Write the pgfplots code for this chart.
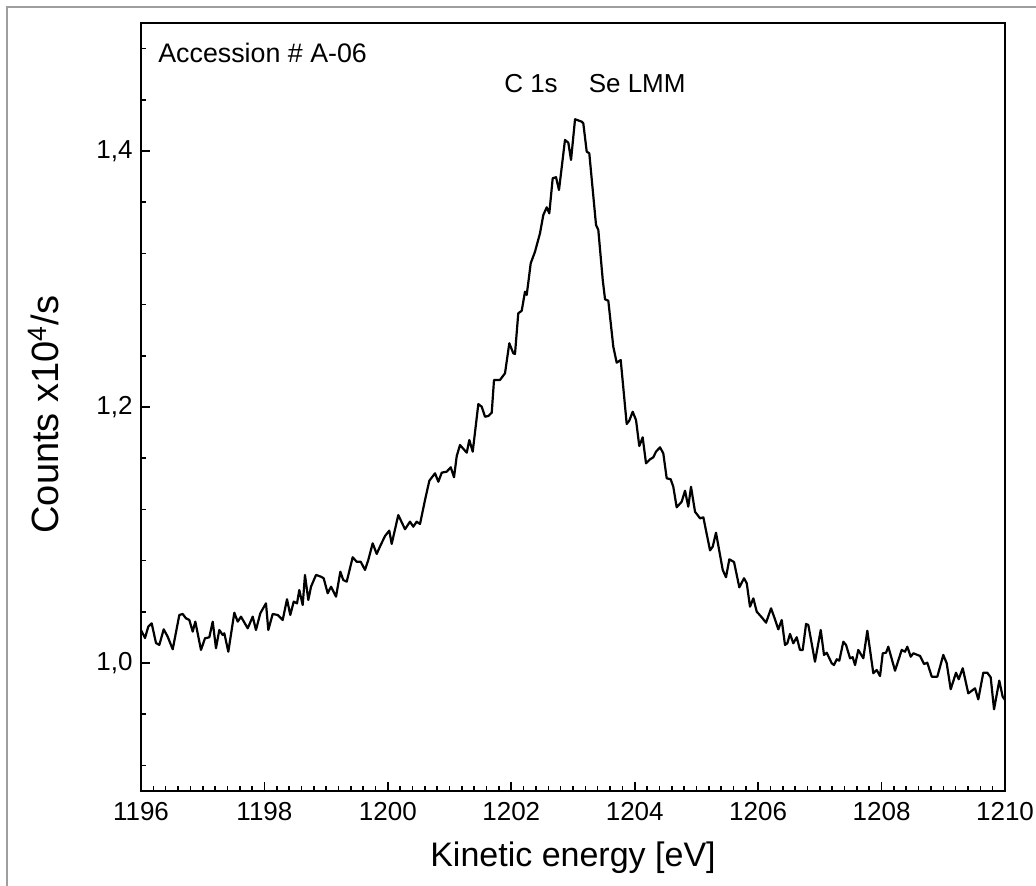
\documentclass[border=0pt]{standalone}
\usepackage{fontspec}
\setmainfont{Liberation Sans}
\usepackage{pgfplots}
\usepackage{pgfplotstable}
\pgfplotsset{compat=1.18}
\pgfplotstableread{
x y
1196.000 1.0258
1196.065 1.0195
1196.118 1.0284
1196.173 1.0310
1196.243 1.0156
1196.297 1.0141
1196.368 1.0263
1196.433 1.0205
1196.514 1.0107
1196.621 1.0375
1196.676 1.0383
1196.729 1.0349
1196.783 1.0336
1196.838 1.0245
1196.880 1.0323
1196.972 1.0102
1197.037 1.0193
1197.107 1.0201
1197.162 1.0323
1197.215 1.0115
1197.269 1.0258
1197.324 1.0219
1197.350 1.0232
1197.415 1.0088
1197.512 1.0393
1197.567 1.0323
1197.620 1.0362
1197.729 1.0271
1197.810 1.0362
1197.863 1.0258
1197.933 1.0388
1198.025 1.0466
1198.063 1.0258
1198.134 1.0383
1198.215 1.0375
1198.296 1.0336
1198.366 1.0498
1198.419 1.0375
1198.474 1.0479
1198.528 1.0466
1198.565 1.0570
1198.620 1.0453
1198.657 1.0688
1198.711 1.0492
1198.755 1.0596
1198.836 1.0688
1198.917 1.0674
1198.960 1.0662
1199.025 1.0545
1199.079 1.0596
1199.160 1.0518
1199.230 1.0713
1199.278 1.0648
1199.333 1.0635
1199.430 1.0826
1199.495 1.0791
1199.560 1.0791
1199.630 1.0727
1199.683 1.0805
1199.754 1.0935
1199.819 1.0852
1199.884 1.0922
1199.954 1.0992
1200.023 1.1034
1200.062 1.0930
1200.169 1.1156
1200.278 1.1045
1200.359 1.1104
1200.412 1.1065
1200.467 1.1104
1200.521 1.1086
1200.602 1.1273
1200.672 1.1424
1200.764 1.1482
1200.818 1.1416
1200.873 1.1487
1200.954 1.1495
1201.019 1.1529
1201.072 1.1451
1201.116 1.1617
1201.169 1.1703
1201.278 1.1643
1201.320 1.1742
1201.375 1.1651
1201.466 1.2023
1201.521 1.2002
1201.574 1.1924
1201.628 1.1930
1201.683 1.1955
1201.720 1.2211
1201.817 1.2211
1201.898 1.2263
1201.968 1.2498
1202.032 1.2420
1202.060 1.2414
1202.113 1.2732
1202.169 1.2752
1202.222 1.2901
1202.250 1.2875
1202.315 1.3123
1202.384 1.3213
1202.465 1.3357
1202.519 1.3500
1202.574 1.3560
1202.616 1.3513
1202.671 1.3787
1202.725 1.3795
1202.773 1.3695
1202.870 1.4086
1202.924 1.4065
1202.968 1.3930
1203.033 1.4248
1203.141 1.4229
1203.167 1.4216
1203.222 1.3995
1203.264 1.3982
1203.373 1.3422
1203.410 1.3383
1203.482 1.2992
1203.519 1.2841
1203.572 1.2830
1203.653 1.2471
1203.708 1.2346
1203.773 1.2367
1203.870 1.1867
1203.912 1.1893
1203.967 1.1963
1204.021 1.1898
1204.074 1.1695
1204.129 1.1763
1204.183 1.1560
1204.248 1.1591
1204.301 1.1607
1204.345 1.1651
1204.410 1.1685
1204.463 1.1638
1204.518 1.1443
1204.583 1.1435
1204.625 1.1377
1204.680 1.1216
1204.761 1.1260
1204.815 1.1346
1204.868 1.1221
1204.912 1.1377
1204.977 1.1182
1205.058 1.1130
1205.112 1.1138
1205.220 1.0880
1205.264 1.0909
1205.317 1.1018
1205.426 1.0727
1205.479 1.0670
1205.533 1.0810
1205.609 1.0789
1205.695 1.0591
1205.771 1.0662
1205.815 1.0623
1205.868 1.0440
1205.922 1.0505
1205.977 1.0401
1206.058 1.0357
1206.128 1.0315
1206.209 1.0427
1206.273 1.0341
1206.327 1.0263
1206.382 1.0336
1206.435 1.0141
1206.473 1.0154
1206.516 1.0227
1206.570 1.0154
1206.625 1.0201
1206.678 1.0102
1206.722 1.0102
1206.776 1.0305
1206.813 1.0297
1206.921 1.0010
1207.014 1.0258
1207.067 1.0063
1207.111 1.0080
1207.192 0.9998
1207.229 0.9984
1207.273 1.0029
1207.315 1.0018
1207.380 1.0166
1207.424 1.0141
1207.489 1.0037
1207.532 1.0045
1207.570 0.9984
1207.623 1.0102
1207.704 1.0037
1207.769 1.0252
1207.866 0.9920
1207.921 0.9945
1207.975 0.9898
1208.019 1.0076
1208.072 1.0080
1208.109 1.0127
1208.218 0.9940
1208.326 1.0102
1208.380 1.0088
1208.417 1.0127
1208.472 1.0049
1208.514 1.0076
1208.623 1.0055
1208.688 0.9992
1208.741 1.0002
1208.813 0.9893
1208.903 0.9893
1209.000 1.0063
1209.055 0.9998
1209.120 0.9795
1209.206 0.9924
1209.250 0.9873
1209.315 0.9959
1209.405 0.9763
1209.514 0.9802
1209.567 0.9716
1209.648 0.9924
1209.713 0.9924
1209.768 0.9888
1209.822 0.9638
1209.907 0.9862
1209.962 0.9737
1210.000 0.9711
}\spectrum
\begin{document}
\begin{tikzpicture}
\useasboundingbox (-70.5pt,-47.5pt) rectangle (447.5pt,395.5pt);
\begin{axis}[
  at={(0,0)}, anchor=south west,
  scale only axis, width=432pt, height=384pt,
  xmin=1196, xmax=1210, ymin=0.9, ymax=1.5,
  xtick={1196,1198,...,1210},
  minor xtick={1196.2,1196.4,...,1209.9},
  ytick={1.0,1.2,1.4},
  minor ytick={0.92,0.96,1.04,1.08,1.12,1.16,1.24,1.28,1.32,1.36,1.44,1.48},
  tick align=inside, tick pos=left,
  major tick length=4.5pt, minor tick length=2.5pt,
  axis line style={line width=1pt},
  every tick/.style={black, line width=0.8pt},
  /pgf/number format/assume math mode=true,
  x tick label style={/pgf/number format/1000 sep={}, anchor=center, yshift=-10.5pt},
  y tick label style={/pgf/number format/.cd, use comma, fixed, fixed zerofill, precision=1, /tikz/.cd, xshift=-0.7pt},
  tick label style={font=\fontsize{13pt}{15pt}\selectfont},
  xlabel={Kinetic energy [eV]},
  ylabel={Counts x10\textsuperscript{4}/s},
  xlabel style={font=\fontsize{17pt}{20pt}\selectfont, at={(axis description cs:0.5,-0.0872)}, anchor=center},
  ylabel style={font=\fontsize{19pt}{22pt}\selectfont, at={(axis description cs:-0.113,0.49)}, anchor=center},
]
\addplot[black, line width=1.1pt, line join=round] table[x=x, y=y] {\spectrum};
\node[anchor=west, inner sep=0pt, font=\fontsize{13.4pt}{16pt}\selectfont] at (axis cs:1196.275,1.4766) {Accession \# A-06};
\node[anchor=center, inner sep=0pt, font=\fontsize{13pt}{15pt}\selectfont] at (axis cs:1202.32,1.4523) {C 1s};
\node[anchor=center, inner sep=0pt, font=\fontsize{13pt}{15pt}\selectfont] at (axis cs:1204.04,1.4523) {Se LMM};
\end{axis}
\draw[black!38, line width=1pt] (-67pt,-47.5pt) -- (-67pt,392pt) -- (447.5pt,392pt);
\end{tikzpicture}
\end{document}
